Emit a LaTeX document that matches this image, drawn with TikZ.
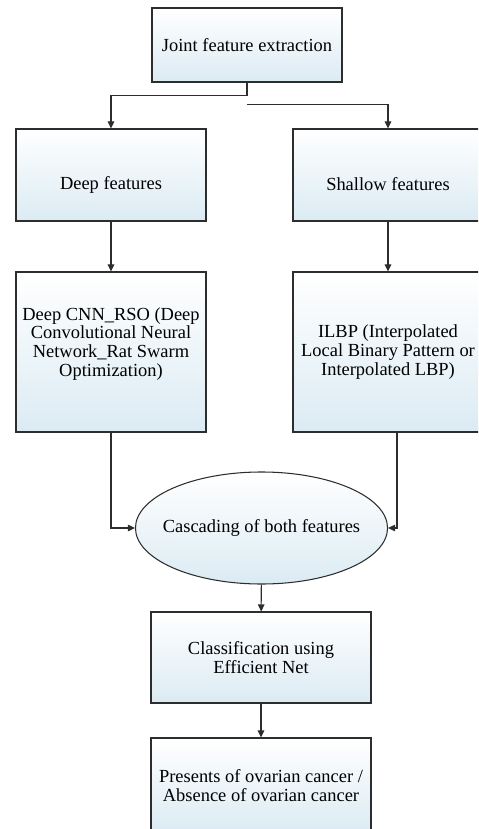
\documentclass[tikz,border=0pt]{standalone}
\usepackage{fontspec}
\setmainfont{Liberation Serif}
\usepackage{tikz}
\usetikzlibrary{arrows.meta, positioning, shapes.geometric, calc}
\definecolor{boxblue}{RGB}{219,235,243}
\definecolor{edgegray}{RGB}{45,45,45}
\tikzset{
    arrow/.style={draw=edgegray, line width=0.6pt, -{Triangle[length=1.4mm, width=1.3mm]}},
    line/.style={draw=edgegray, line width=0.6pt}
}
\begin{document}
\begin{tikzpicture}[
    stage/.style={rectangle, draw=edgegray, line width=0.6pt, top color=white, bottom color=boxblue, align=center, minimum width=3.8cm, font=\fontsize{10.5}{10.6}\selectfont},
    merge/.style={ellipse, draw=edgegray, line width=0.6pt, top color=white, bottom color=boxblue, align=center, minimum width=5.02cm, minimum height=2.24cm, inner xsep=-0.19cm, inner ysep=0pt, font=\fontsize{10.5}{10.6}\selectfont},
    outbox/.style={stage, minimum width=4.4cm}
]
    \useasboundingbox (0,0) rectangle (9.56,-16.58);
    \clip (0,0) rectangle (9.56,-16.58);

    \node[stage, minimum height=1.48cm] (joint) at (4.94,-0.90) {Joint feature extraction};

    \node[stage, minimum height=1.84cm, text height=0.64cm] (deep) at (2.22,-3.50) {Deep features};
    \node[stage, minimum height=1.84cm, text height=0.64cm] (shallow) at (7.76,-3.50) {Shallow features};

    \node[stage, minimum height=3.20cm] (deepcnn) at (2.22,-7.04) {Deep CNN\_RSO (Deep\\Convolutional Neural\\Network\_Rat Swarm\\Optimization)\\[1pt]\mbox{}};
    \node[stage, minimum height=3.20cm] (ilbp) at (7.76,-7.04) {ILBP (Interpolated\\Local Binary Pattern or\\Interpolated LBP)};

    \node[merge] (cascade) at (5.23,-10.56) {Cascading of both features};

    \node[outbox, minimum height=1.82cm] (classify) at (5.22,-13.15) {Classification using\\Efficient Net};
    \node[outbox, minimum height=1.90cm] (result) at (5.22,-15.71) {Presents of ovarian cancer /\\Absence of ovarian cancer};

    \coordinate (split) at ([yshift=-0.44cm]joint.south);
    \coordinate (ilbpout) at ([xshift=0.18cm]ilbp.south);

    \draw[arrow] (joint.south) -- ++(0,-0.26) -| (deep.north);
    \draw[arrow] (split) -| (shallow.north);
    \draw[arrow] (deep) -- (deepcnn);
    \draw[arrow] (shallow) -- (ilbp);
    \draw[arrow] (deepcnn.south) |- (cascade.west);
    \draw[arrow] (ilbpout) |- (cascade.east);
    \draw[arrow] (cascade) -- (classify);
    \draw[arrow] (classify) -- (result);
\end{tikzpicture}
\end{document}
